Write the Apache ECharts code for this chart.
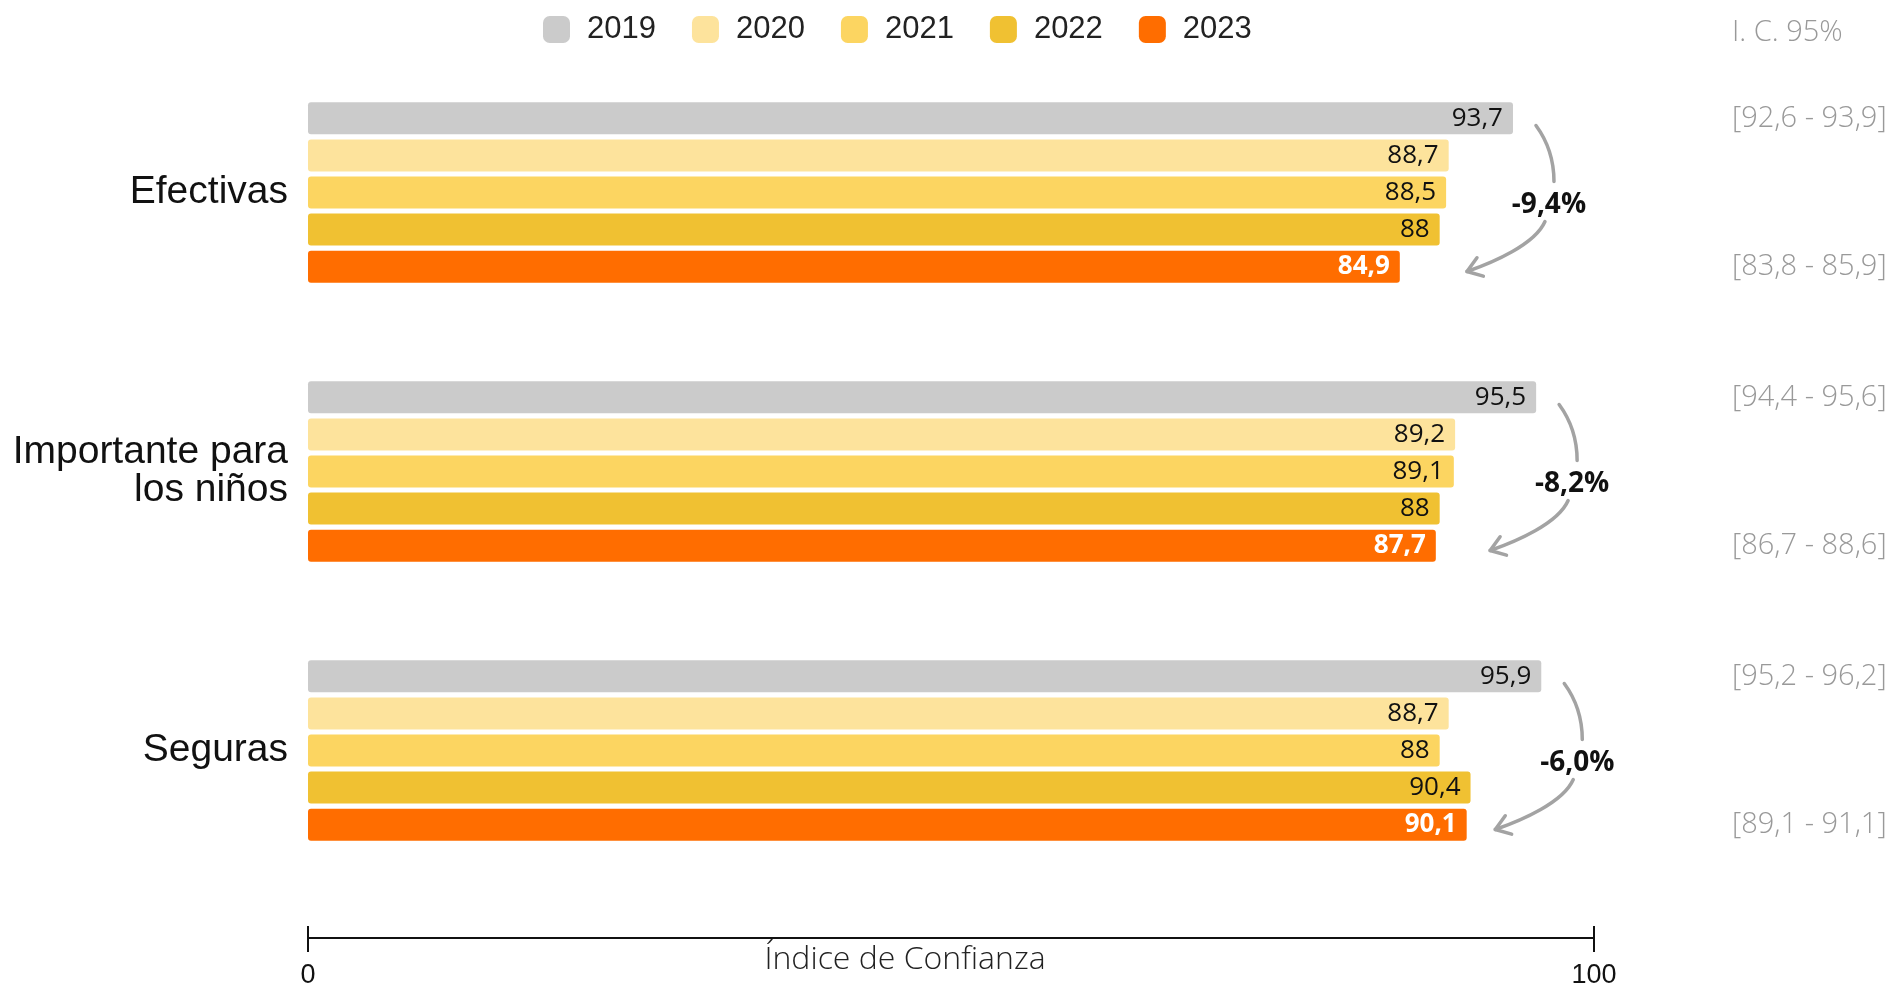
<!DOCTYPE html>
<html>
<head>
<meta charset="utf-8">
<script src="https://cdn.jsdelivr.net/npm/echarts@6/dist/echarts.min.js"></script>
<style>
  html, body { margin: 0; padding: 0; background: #fff; }
  #chart { width: 1890px; height: 988px; }
</style>
</head>
<body>
<div id="chart"></div>
<script>
// datos
const categories = ["Efectivas", "Importante para\nlos niños", "Seguras"];
const years = ["2019", "2020", "2021", "2022", "2023"];
const v2019 = [93.7, 95.5, 95.9];
const v2020 = [88.7, 89.2, 88.7];
const v2021 = [88.5, 89.1, 88];
const v2022 = [88, 88, 90.4];
const v2023 = [84.9, 87.7, 90.1];
const changes = ["-9,4%", "-8,2%", "-6,0%"];
const ci2019 = ["[92,6 - 93,9]", "[94,4 - 95,6]", "[95,2 - 96,2]"];
const ci2023 = ["[83,8 - 85,9]", "[86,7 - 88,6]", "[89,1 - 91,1]"];
const xTicks = [0, 100];

const colors = ["#cbcbcb", "#fde39c", "#fcd561", "#f0c132", "#ff6d00"];
const values = [v2019, v2020, v2021, v2022, v2023];

const fmt = v => String(v).replace(".", ",");

const chart = echarts.init(document.getElementById("chart"));

const barSeries = years.map((y, k) => ({
  name: y,
  type: "bar",
  data: values[k],
  barWidth: 32,
  barGap: "16%",
  itemStyle: { color: colors[k], borderRadius: 3 },
  label: {
    show: true,
    position: "insideRight",
    distance: 10,
    formatter: p => fmt(p.value),
    fontFamily: "Open Sans",
    fontSize: 26,
    fontWeight: k === 4 ? "bold" : "normal",
    color: k === 4 ? "#ffffff" : "#111111"
  },
  emphasis: { disabled: true }
}));

// flechas curvas con el cambio porcentual + intervalos de confianza
const arrowSeries = {
  type: "custom",
  silent: true,
  z: 5,
  data: v2019.map((v, i) => [v, i]),
  encode: { x: 0, y: 1 },
  renderItem: (params, api) => {
    const i = params.dataIndex;
    const c = api.coord([api.value(0), api.value(1)]);
    const x0 = c[0], cy = c[1];
    const lineStyle = { stroke: "#a3a3a3", lineWidth: 3.5, fill: null, lineCap: "round" };
    const tip = [x0 - 46, cy + 79];
    const cp2 = [x0 - 20, cy + 70];
    let dx = tip[0] - cp2[0], dy = tip[1] - cp2[1];
    const len = Math.sqrt(dx * dx + dy * dy);
    dx /= len; dy /= len;
    const barb = (ang) => {
      const a = ang * Math.PI / 180;
      const bx = -dx * Math.cos(a) + dy * Math.sin(a);
      const by = -dx * Math.sin(a) - dy * Math.cos(a);
      return [tip[0] + bx * 17, tip[1] + by * 17];
    };
    const ciX = 1732;
    return {
      type: "group",
      children: [
        {
          type: "bezierCurve",
          shape: { x1: x0 + 23, y1: cy - 67, cpx1: x0 + 34, cpy1: cy - 52, cpx2: x0 + 41, cpy2: cy - 35, x2: x0 + 41, y2: cy - 11 },
          style: lineStyle
        },
        {
          type: "bezierCurve",
          shape: { x1: x0 + 32, y1: cy + 29, cpx1: x0 + 22, cpy1: cy + 52, cpx2: cp2[0], cpy2: cp2[1], x2: tip[0], y2: tip[1] },
          style: lineStyle
        },
        {
          type: "polyline",
          shape: { points: [barb(35), tip, barb(-35)] },
          style: { stroke: "#a3a3a3", lineWidth: 3.5, fill: null, lineCap: "round", lineJoin: "round" }
        },
        {
          type: "text",
          style: {
            x: x0 + 36, y: cy + 13, text: changes[i], align: "center", verticalAlign: "middle",
            font: "bold 28px 'Open Sans'", fill: "#111"
          }
        },
        {
          type: "text",
          style: {
            x: ciX, y: cy - 74, text: ci2019[i], align: "left", verticalAlign: "middle",
            font: "300 29px 'Open Sans'", fill: "#999999"
          }
        },
        {
          type: "text",
          style: {
            x: ciX, y: cy + 74, text: ci2023[i], align: "left", verticalAlign: "middle",
            font: "300 29px 'Open Sans'", fill: "#999999"
          }
        }
      ]
    };
  }
};

chart.setOption({
  animation: false,
  backgroundColor: "#ffffff",
  textStyle: { fontFamily: "Liberation Sans" },
  legend: {
    data: years,
    left: 538,
    top: 9,
    itemWidth: 27,
    itemHeight: 27,
    itemGap: 36,
    icon: "roundRect",
    textStyle: { fontFamily: "Liberation Sans", fontSize: 31, color: "#222", padding: [0, 0, 0, 12] },
    selectedMode: false
  },
  graphic: [{
    type: "text",
    left: 1732,
    top: 18,
    style: { text: "I. C. 95%", font: "300 29px 'Open Sans'", fill: "#999999" }
  }],
  grid: { left: 308, right: 296, top: 53, bottom: 98, containLabel: false, outerBoundsMode: "none" },
  xAxis: [
    {
      type: "value",
      min: xTicks[0],
      max: xTicks[1],
      interval: xTicks[1] - xTicks[0],
      offset: 48,
      name: "Índice de Confianza",
      nameLocation: "middle",
      nameGap: 6,
      nameMoveOverlap: false,
      nameTextStyle: { fontFamily: "Open Sans", fontWeight: 300, fontSize: 32, color: "#222", padding: [0, 92, 0, 0], verticalAlign: "top" },
      axisLine: { show: true, lineStyle: { color: "#111", width: 2 } },
      axisTick: { show: true, length: 14, lineStyle: { color: "#111", width: 2 } },
      splitLine: { show: false },
      axisLabel: { fontFamily: "Liberation Sans", fontSize: 27, color: "#111", margin: 24 }
    },
    {
      type: "value",
      min: xTicks[0],
      max: xTicks[1],
      interval: xTicks[1] - xTicks[0],
      offset: 48,
      position: "bottom",
      axisLine: { show: false },
      axisTick: { show: true, inside: true, length: 12, lineStyle: { color: "#111", width: 2 } },
      splitLine: { show: false },
      axisLabel: { show: false }
    }
  ],
  yAxis: {
    type: "category",
    inverse: true,
    data: categories,
    axisLine: { show: false },
    axisTick: { show: false },
    splitLine: { show: false },
    axisLabel: { fontFamily: "Liberation Sans", fontSize: 39, lineHeight: 38, color: "#111", margin: 20 }
  },
  series: [...barSeries, arrowSeries]
});
</script>
</body>
</html>
